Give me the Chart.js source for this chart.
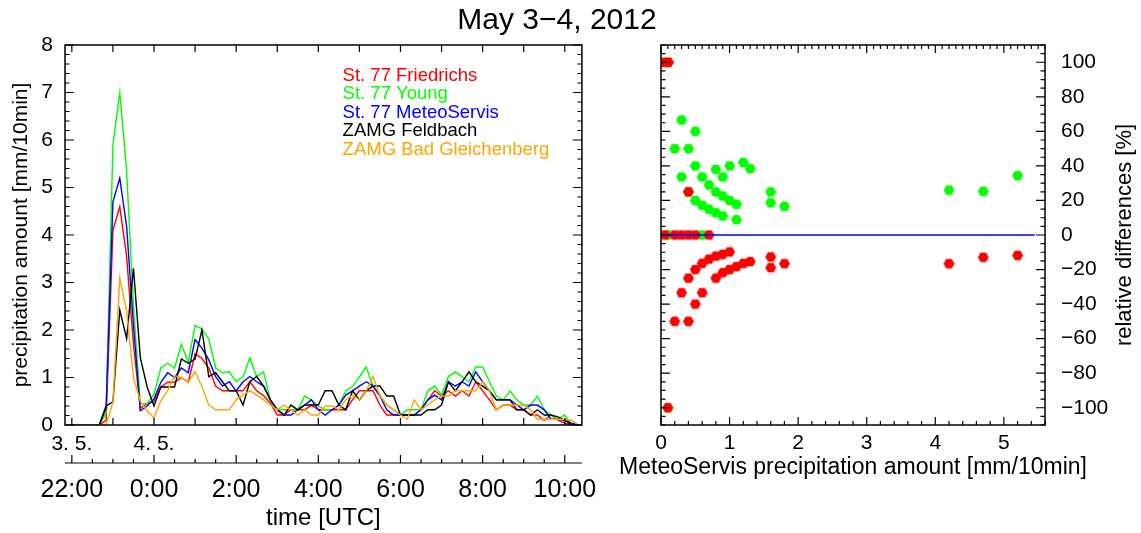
<!DOCTYPE html>
<html>
<head>
<meta charset="utf-8">
<script src="https://cdn.jsdelivr.net/npm/chart.js@4/dist/chart.umd.min.js"></script>
<style>
  body { margin: 0; background: #fff; font-family: 'Liberation Sans', Arial, sans-serif; }
  #wrap { position: relative; width: 1141px; height: 533px; }
  #title { position: absolute; top: 2px; left: 0; width: 1114px; text-align: center; font-size: 30px; color: #000; }
  #left { position: absolute; left: 0; top: 0; }
  #right { position: absolute; left: 610px; top: 0; }
</style>
</head>
<body>
<div id="wrap">
  <canvas id="left" width="610" height="533"></canvas>
  <canvas id="right" width="531" height="533"></canvas>
  <div id="title">May 3&#8722;4, 2012</div>
</div>
<script>
// 10-min precipitation sums, minutes after 22:00 UTC on 3 May
const minutes = Array.from({ length: 76 }, (_, i) => i * 10);

const seriesNames = ['St. 77 Friedrichs', 'St. 77 Young', 'St. 77 MeteoServis', 'ZAMG Feldbach', 'ZAMG Bad Gleichenberg'];
const seriesColors = ['#ff0000', '#00ff00', '#0000ff', '#000000', '#ffa500'];

const friedrichs = [0, 0, 0, 0, 0, 0.1, 4.1, 4.6, 3.55, 1.7,
  0.35, 0.45, 0.5, 0.8, 0.9, 0.9, 1.0, 0.9, 1.5, 1.4,
  1.2, 0.82, 0.72, 0.72, 0.72, 0.72, 0.91, 0.72, 0.62, 0.46,
  0.21, 0.21, 0.32, 0.32, 0.32, 0.42, 0.32, 0.32, 0.32, 0.32,
  0.32, 0.53, 0.72, 0.72, 0.72, 0.42, 0.21, 0.21, 0.21, 0.21,
  0.21, 0.32, 0.53, 0.72, 0.61, 0.72, 0.61, 0.72, 0.61, 0.91,
  0.72, 0.53, 0.32, 0.42, 0.42, 0.32, 0.32, 0.21, 0.21, 0.1,
  0.21, 0.1, 0.04, 0, 0, 0];
const young = [0, 0, 0, 0, 0, 0.25, 5.9, 7.0, 5.35, 2.5,
  0.45, 0.45, 0.65, 1.2, 1.3, 1.2, 1.7, 1.32, 2.1, 2.02,
  1.81, 1.2, 1.1, 1.12, 0.91, 1.02, 1.41, 1.02, 1.12, 0.53,
  0.32, 0.32, 0.32, 0.32, 0.61, 0.53, 0.4, 0.32, 0.32, 0.42,
  0.72, 0.81, 1.02, 1.22, 0.82, 0.63, 0.42, 0.32, 0.21, 0.32,
  0.32, 0.32, 0.72, 0.82, 0.63, 1.02, 1.12, 1.02, 0.91, 1.22,
  1.22, 0.91, 0.61, 0.53, 0.72, 0.53, 0.42, 0.42, 0.61, 0.32,
  0.21, 0.12, 0.21, 0, 0, 0];
const meteoServis = [0, 0, 0, 0, 0, 0.35, 4.7, 5.2, 4.18, 2.1,
  0.3, 0.4, 0.55, 0.9, 1.1, 1.0, 1.2, 1.1, 1.8, 1.62,
  1.37, 1.02, 0.82, 0.91, 0.72, 0.91, 1.02, 0.91, 0.82, 0.53,
  0.32, 0.21, 0.21, 0.32, 0.42, 0.53, 0.32, 0.21, 0.32, 0.42,
  0.63, 0.72, 0.82, 0.91, 0.82, 0.61, 0.32, 0.21, 0.21, 0.21,
  0.21, 0.32, 0.53, 0.63, 0.53, 0.91, 0.82, 0.91, 0.82, 1.12,
  0.91, 0.72, 0.53, 0.53, 0.53, 0.42, 0.32, 0.42, 0.42, 0.32,
  0.12, 0.12, 0.1, 0.04, 0, 0];
const feldbach = [0, 0, 0, 0, 0, 0.4, 0.49, 2.42, 1.82, 3.3,
  1.42, 0.8, 0.4, 0.8, 0.8, 0.8, 1.39, 1.3, 1.39, 2.0,
  1.02, 1.1, 0.91, 0.72, 0.72, 0.42, 0.91, 1.02, 0.82, 0.53,
  0.32, 0.21, 0.42, 0.32, 0.42, 0.42, 0.42, 0.72, 0.72, 0.42,
  0.32, 0.72, 0.53, 0.72, 0.82, 0.82, 0.61, 0.61, 0.21, 0.21,
  0.21, 0.21, 0.32, 0.32, 0.42, 0.91, 0.72, 0.91, 1.12, 0.91,
  0.82, 0.72, 0.53, 0.53, 0.53, 0.32, 0.32, 0.21, 0.32, 0.21,
  0.21, 0.17, 0.1, 0, 0, 0];
const badGleichenberg = [0, 0, 0, 0, 0, 0, 0.48, 3.1, 2.4, 1.0,
  0.5, 0.3, 0.15, 0.51, 0.72, 1.04, 1.0, 0.9, 1.12, 0.81,
  0.42, 0.32, 0.32, 0.32, 0.53, 0.63, 0.72, 0.63, 0.53, 0.42,
  0.32, 0.42, 0.32, 0.21, 0.32, 0.21, 0.21, 0.4, 0.4, 0.32,
  0.53, 0.63, 0.53, 0.72, 1.02, 0.61, 0.42, 0.32, 0.21, 0.12,
  0.53, 0.32, 0.42, 0.53, 0.61, 0.61, 0.72, 0.72, 0.72, 0.72,
  0.91, 0.72, 0.32, 0.42, 0.42, 0.42, 0.42, 0.32, 0.12, 0.12,
  0.12, 0.12, 0.12, 0.1, 0, 0];

const dayTicks = [0, 120];
const dayLabels = ['3. 5.', '4. 5.'];
const hourTicks = [0, 120, 240, 360, 480, 600, 720];
const hourLabels = ['22:00', '0:00', '2:00', '4:00', '6:00', '8:00', '10:00'];
const amountTicks = [0, 1, 2, 3, 4, 5, 6, 7, 8];

// relative differences against MeteoServis [%]
const youngX = [0.1, 0.1, 0.1, 0.6, 0.3, 0.5, 0.2, 0.4, 0.5, 0.3, 0.6, 0.8, 0.9, 1.0, 1.2, 1.3,
  0.4, 0.7, 0.8, 0.9, 1.0, 1.1, 0.5, 0.6, 0.7, 0.8, 0.9, 1.1, 1.6, 1.6, 1.8, 4.2, 4.7, 5.2];
const youngY = [100, -100, 0, 0, 66.6, 60, 50, 50, 40, 33.6, 33.6, 38, 33.6, 40, 42, 38.4,
  25, 29, 25, 22.6, 20, 17.8, 20, 17.2, 14.9, 12.9, 11, 8.9, 25, 18.7, 16.6, 26, 25.3, 34.4];
const friedrichsX = [0.03, 0.11, 0.1, 0.06, 0.2, 0.3, 0.4, 0.5, 0.7, 0.4, 0.4, 0.3, 0.2, 0.4, 0.5, 0.6,
  0.5, 0.6, 0.7, 0.8, 0.9, 1.0, 0.8, 0.9, 1.0, 1.1, 1.2, 1.3, 1.6, 1.6, 1.8, 4.2, 4.7, 5.2];
const friedrichsY = [100, 100, -100, 0, 0, 0, 0, 0, 0, 25, -25, -33.4, -50, -50, -40, -33.4,
  -20, -16.4, -14, -12.2, -11.2, -9.8, -25, -21.8, -20, -18.3, -16.4, -15.4, -12.7, -18.9, -16.6, -16.6, -12.9, -11.8];
const zeroLineX = [0, 5.45];
const zeroLineY = [0, 0];
const diffXTicks = [0, 1, 2, 3, 4, 5];
const diffYTicks = [-100, -80, -60, -40, -20, 0, 20, 40, 60, 80, 100];

const FONT = "'Liberation Sans', Arial, sans-serif";
Chart.defaults.font.family = FONT;
Chart.defaults.color = '#000';

function pairs(xs, ys) {
  return xs.map((x, i) => ({ x: x, y: ys[i] }));
}

function fixedTicks(values) {
  return scale => { scale.ticks = values.map(v => ({ value: v })); };
}

function minus(v) {
  return String(v).replace('-', '\u2212');
}

// pixel positions of every multiple of step inside the scale range
function ticksAlong(scale, step) {
  const out = [];
  const n0 = Math.ceil(scale.min / step - 1e-9);
  const n1 = Math.floor(scale.max / step + 1e-9);
  for (let n = n0; n <= n1; n++) out.push(scale.getPixelForValue(n * step));
  return out;
}

// closed frame with inward ticks on all four sides
const boxTicks = {
  id: 'boxTicks',
  afterDatasetsDraw(chart, args, o) {
    const { ctx, chartArea: a } = chart;
    const xs = chart.scales.x, ys = chart.scales.y;
    ctx.save();
    ctx.strokeStyle = '#000';
    ctx.lineWidth = 1.2;
    ctx.beginPath();
    for (const [step, len] of o.y) {
      for (const p of ticksAlong(ys, step)) {
        ctx.moveTo(a.left, p); ctx.lineTo(a.left + len, p);
        ctx.moveTo(a.right, p); ctx.lineTo(a.right - len, p);
      }
    }
    for (const [step, len] of o.xBottom) {
      for (const p of ticksAlong(xs, step)) { ctx.moveTo(p, a.bottom); ctx.lineTo(p, a.bottom - len); }
    }
    for (const [step, len] of o.xTop) {
      for (const p of ticksAlong(xs, step)) { ctx.moveTo(p, a.top); ctx.lineTo(p, a.top + len); }
    }
    ctx.stroke();
    ctx.lineWidth = 1.5;
    ctx.strokeRect(a.left, a.top, a.width, a.height);
    ctx.restore();
  }
};

// separate time axis under the date labels, plus the coloured station list
const timeAxis = {
  id: 'timeAxis',
  afterDraw(chart) {
    const { ctx, chartArea: a } = chart;
    const xs = chart.scales.x2;
    const yLine = xs.top + 1;
    ctx.save();
    ctx.strokeStyle = '#000';
    ctx.lineWidth = 1.2;
    ctx.beginPath();
    ctx.moveTo(a.left, yLine); ctx.lineTo(a.right, yLine);
    for (const p of ticksAlong(xs, 30)) { ctx.moveTo(p, yLine); ctx.lineTo(p, yLine - 4); }
    for (const v of hourTicks) {
      const p = xs.getPixelForValue(v);
      ctx.moveTo(p, yLine); ctx.lineTo(p, yLine - 8);
    }
    ctx.stroke();

    ctx.font = '18.5px ' + FONT;
    ctx.textBaseline = 'middle';
    ctx.textAlign = 'left';
    const lx = a.left + 0.537 * a.width;
    seriesNames.forEach((name, k) => {
      ctx.fillStyle = seriesColors[k];
      ctx.fillText(name, lx, a.top + 31 + k * 18.4);
    });
    ctx.restore();
  }
};

// axis titles of the scatter panel, drawn without the chart-area width limit
const diffTitles = {
  id: 'diffTitles',
  afterDraw(chart) {
    const { ctx, chartArea: a } = chart;
    ctx.save();
    ctx.font = '23px ' + FONT;
    ctx.fillStyle = '#000';
    ctx.textAlign = 'center';
    ctx.textBaseline = 'middle';
    ctx.fillText('MeteoServis precipitation amount [mm/10min]', (a.left + a.right) / 2, a.bottom + 43);
    ctx.font = '22px ' + FONT;
    ctx.translate(515, (a.top + a.bottom) / 2);
    ctx.rotate(-Math.PI / 2);
    ctx.fillText('relative differences [%]', 0, 0);
    ctx.restore();
  }
};

const stations = [friedrichs, young, meteoServis, feldbach, badGleichenberg];

new Chart(document.getElementById('left'), {
  type: 'line',
  data: {
    datasets: stations.map((vals, k) => ({
      label: seriesNames[k],
      data: pairs(minutes, vals),
      borderColor: seriesColors[k],
      borderWidth: 1.4,
      pointRadius: 0,
      tension: 0,
      order: 5 - k
    }))
  },
  options: {
    responsive: false,
    animation: false,
    events: [],
    layout: { padding: { top: 45, right: 17, left: 0, bottom: 0 } },
    plugins: {
      legend: { display: false },
      tooltip: { enabled: false },
      boxTicks: { y: [[1, 9], [0.2, 4.5]], xBottom: [[60, 7]], xTop: [[60, 7]] }
    },
    scales: {
      x: {
        type: 'linear', min: -10, max: 745, weight: 0,
        grid: { display: false, drawTicks: false }, border: { display: false },
        afterBuildTicks: fixedTicks(dayTicks),
        ticks: { callback: v => dayLabels[dayTicks.indexOf(v)], font: { size: 21 }, padding: 7, maxRotation: 0, autoSkip: false },
        afterFit: s => { s.height = 37; }
      },
      x2: {
        type: 'linear', position: 'bottom', min: -10, max: 745, weight: 1,
        grid: { display: false, drawTicks: false }, border: { display: false },
        afterBuildTicks: fixedTicks(hourTicks),
        ticks: { callback: v => hourLabels[hourTicks.indexOf(v)], font: { size: 25 }, padding: 13, maxRotation: 0, autoSkip: false },
        title: { display: true, text: 'time [UTC]', font: { size: 24 }, padding: { top: 0, bottom: 0 } },
        afterFit: s => { s.height = 71; }
      },
      y: {
        min: 0, max: 8,
        grid: { display: false, drawTicks: false }, border: { display: false },
        afterBuildTicks: fixedTicks(amountTicks),
        ticks: { font: { size: 21 }, padding: 12 },
        title: { display: true, text: 'precipitation amount [mm/10min]', font: { size: 21 }, padding: { top: 9, bottom: 0 } },
        afterFit: s => { s.width = 65; }
      }
    }
  },
  plugins: [boxTicks, timeAxis]
});

function hexagon(color, r) {
  const c = document.createElement('canvas');
  const s = Math.ceil(2 * r + 2);
  c.width = c.height = s;
  const g = c.getContext('2d');
  g.fillStyle = color;
  g.beginPath();
  for (let k = 0; k < 6; k++) {
    const ang = Math.PI / 3 * k;
    const px = s / 2 + r * Math.cos(ang), py = s / 2 + r * Math.sin(ang);
    if (k) g.lineTo(px, py); else g.moveTo(px, py);
  }
  g.closePath();
  g.fill();
  return c;
}

new Chart(document.getElementById('right'), {
  type: 'scatter',
  data: {
    datasets: [
      { type: 'line', data: pairs(zeroLineX, zeroLineY), borderColor: '#0000ff', borderWidth: 1.3, pointRadius: 0 },
      { data: pairs(friedrichsX, friedrichsY), pointStyle: hexagon('#ff0000', 5.5), pointRadius: 6 },
      { data: pairs(youngX, youngY), pointStyle: hexagon('#00ff00', 5.5), pointRadius: 6 }
    ]
  },
  options: {
    responsive: false,
    animation: false,
    events: [],
    layout: { padding: { top: 45, right: 0, left: 51, bottom: 50 } },
    plugins: {
      legend: { display: false },
      tooltip: { enabled: false },
      boxTicks: { y: [[20, 9], [5, 4.5]], xBottom: [[1, 8], [0.2, 4]], xTop: [[1, 8], [0.1, 4]] }
    },
    scales: {
      x: {
        type: 'linear', min: 0, max: 5.6,
        grid: { display: false, drawTicks: false }, border: { display: false },
        afterBuildTicks: fixedTicks(diffXTicks),
        ticks: { font: { size: 21 }, padding: 6, maxRotation: 0 },
        afterFit: s => { s.height = 58; }
      },
      y: {
        position: 'right', min: -110, max: 110,
        grid: { display: false, drawTicks: false }, border: { display: false },
        afterBuildTicks: fixedTicks(diffYTicks),
        ticks: { font: { size: 21 }, padding: 16, callback: v => minus(v) },
        afterFit: s => { s.width = 96; }
      }
    }
  },
  plugins: [boxTicks, diffTitles]
});
</script>
</body>
</html>
